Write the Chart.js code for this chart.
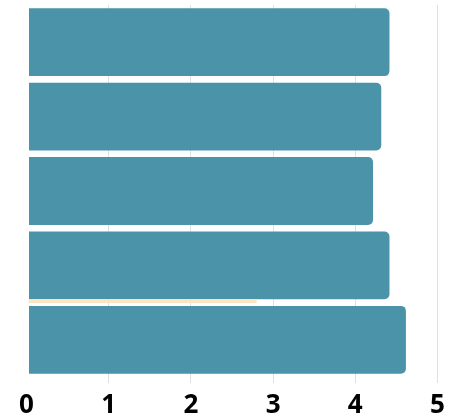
<!DOCTYPE html>
<html>
<head>
<meta charset="utf-8">
<script src="https://cdn.jsdelivr.net/npm/chart.js@4/dist/chart.umd.min.js"></script>
<style>
  html, body { margin: 0; padding: 0; background: #fff; }
  #wrap { width: 460px; height: 417px; position: relative; }
</style>
</head>
<body>
<div id="wrap"><canvas id="c"></canvas></div>
<script>
const categories = ['A', 'B', 'C', 'D', 'E'];
const mainValues = [4.44, 4.34, 4.24, 4.44, 4.64];
const markerSlots = ['', '', '', '', 'D', ''];
const markerValues = [null, null, null, null, 2.82, null];
const xTicks = [0, 1, 2, 3, 4, 5];

new Chart(document.getElementById('c'), {
  type: 'bar',
  data: {
    labels: categories,
    datasets: [
      {
        data: mainValues,
        yAxisID: 'y',
        backgroundColor: '#4B93A8',
        borderColor: 'rgba(0,0,0,0)',
        borderWidth: 2,
        borderSkipped: false,
        borderRadius: { topLeft: 0, bottomLeft: 0, topRight: 7, bottomRight: 7 },
        categoryPercentage: 1,
        barPercentage: 0.965,
        grouped: false,
        order: 2
      },
      {
        data: markerValues,
        yAxisID: 'y2',
        backgroundColor: '#FCE6C2',
        borderColor: 'rgba(0,0,0,0)',
        borderWidth: { top: 0, bottom: 4, left: 2, right: 2 },
        borderSkipped: false,
        barThickness: 6.5,
        grouped: false,
        order: 1
      }
    ]
  },
  options: {
    indexAxis: 'y',
    responsive: true,
    maintainAspectRatio: false,
    animation: false,
    layout: { padding: { left: 26.5, right: 22.5, top: 5, bottom: 0 } },
    plugins: { legend: { display: false }, tooltip: { enabled: false } },
    scales: {
      x: {
        type: 'linear',
        min: 0,
        max: 5,
        afterBuildTicks: (axis) => { axis.ticks = xTicks.map(v => ({ value: v })); },
        afterFit: (axis) => { axis.height = 40; },
        grid: {
          color: (ctx) => (ctx.tick && ctx.tick.value === 0) ? 'rgba(0,0,0,0)' : 'rgba(0,0,0,0.12)',
          drawTicks: true,
          tickLength: 6
        },
        border: { display: false },
        ticks: {
          color: '#000',
          padding: 10,
          maxRotation: 0,
          font: { family: 'Open Sans', size: 26, weight: 'bold', lineHeight: 1 }
        }
      },
      y: {
        type: 'category',
        display: false,
        offset: true
      },
      y2: {
        type: 'category',
        labels: markerSlots,
        display: false,
        offset: false
      }
    }
  }
});
</script>
</body>
</html>
